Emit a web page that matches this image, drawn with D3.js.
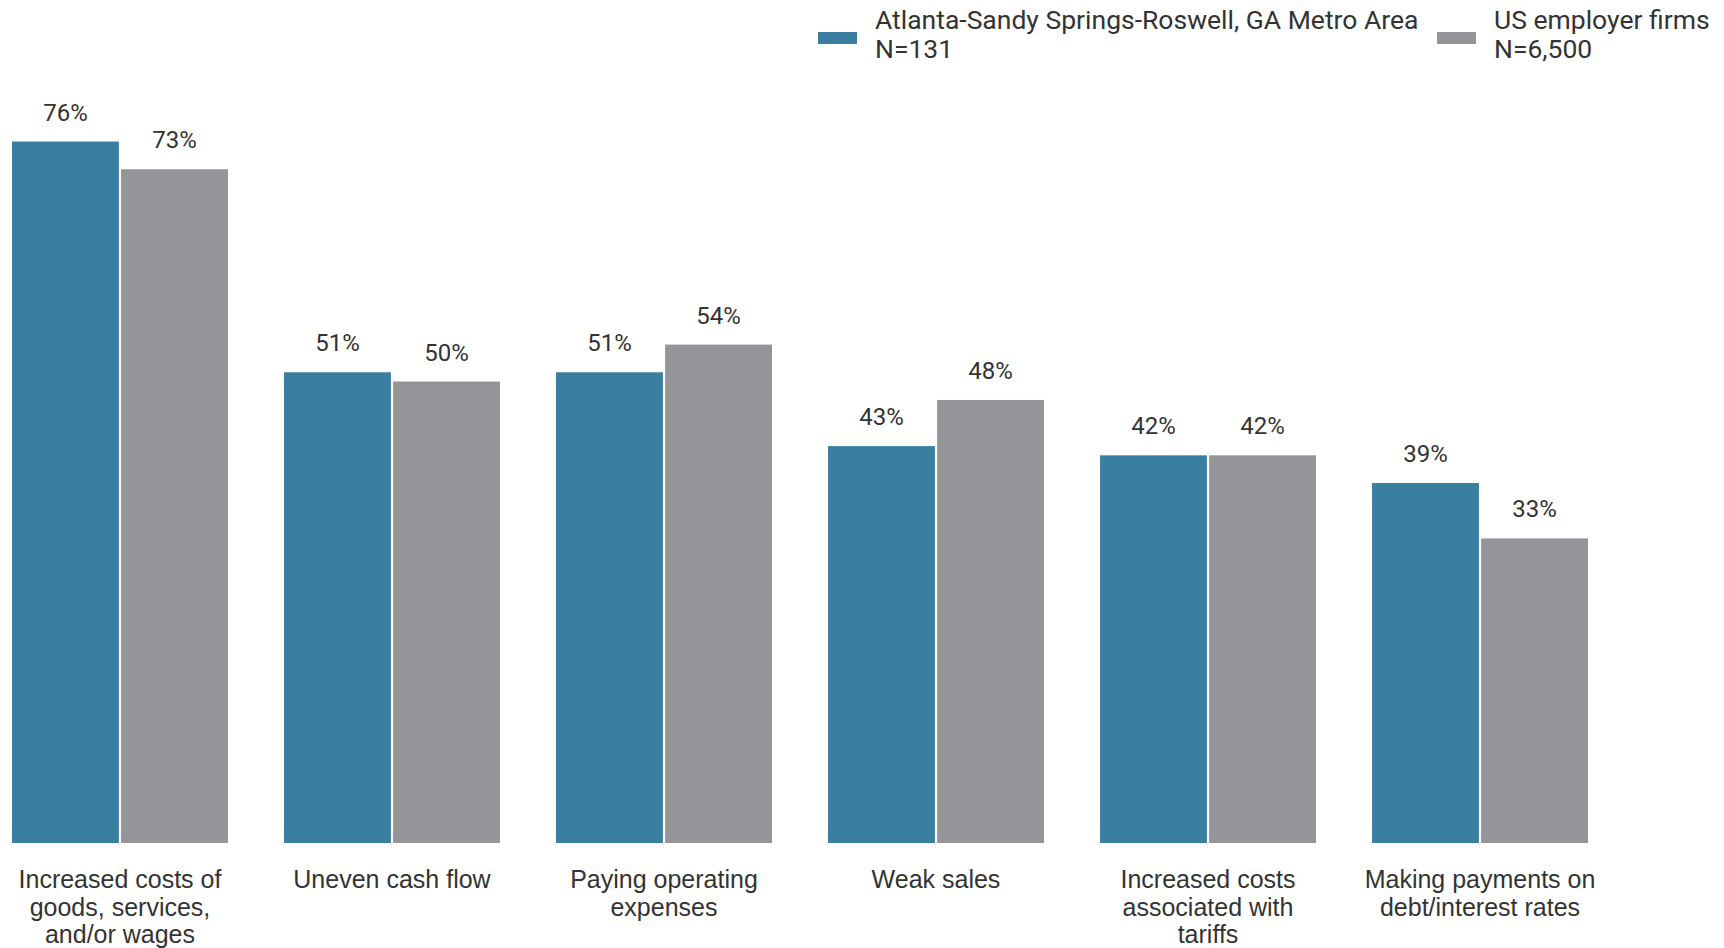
<!DOCTYPE html>
<html>
<head>
<meta charset="utf-8">
<script src="https://cdn.jsdelivr.net/npm/d3@7"></script>
<style>
  body { margin: 0; background: #fff; }
  text { font-family: Roboto, "Noto Sans", sans-serif; fill: #333; }
  text.cat { font-family: "Liberation Sans", Arial, sans-serif; }
</style>
</head>
<body>
<svg id="chart" width="1724" height="948"></svg>
<script>
// chart data
var categories = [
    "Increased costs of\ngoods, services,\nand/or wages",
    "Uneven cash flow",
    "Paying operating\nexpenses",
    "Weak sales",
    "Increased costs\nassociated with\ntariffs",
    "Making payments on\ndebt/interest rates"
];
var seriesNames = ["Atlanta-Sandy Springs-Roswell, GA Metro Area\nN=131", "US employer firms\nN=6,500"];
var atlantaValues = [76, 51, 51, 43, 42, 39];
var usValues = [73, 50, 54, 48, 42, 33];
var colors = ["#3a7ea1", "#949599"];

var svg = d3.select("#chart");

var rows = categories.map(function(c, i) {
    return {cat: c, vals: [atlantaValues[i], usValues[i]]};
});

var x0 = d3.scaleBand()
    .domain(categories)
    .range([12, 1588])
    .paddingInner(0.206)
    .paddingOuter(0);

var x1 = d3.scaleBand()
    .domain([0, 1])
    .range([0, x0.bandwidth()])
    .paddingInner(0.02);

var y = d3.scaleLinear()
    .domain([0, 100])
    .range([843, -80]);

var groups = svg.selectAll("g.group")
    .data(rows)
    .enter()
    .append("g")
    .attr("class", "group")
    .attr("transform", function(d) { return "translate(" + x0(d.cat) + ",0)"; });

groups.selectAll("rect")
    .data(function(d) { return d.vals; })
    .enter()
    .append("rect")
    .attr("x", function(d, i) { return x1(i); })
    .attr("width", x1.bandwidth())
    .attr("y", function(d) { return y(d); })
    .attr("height", function(d) { return y(0) - y(d); })
    .attr("fill", function(d, i) { return colors[i]; });

groups.selectAll("text.val")
    .data(function(d) { return d.vals; })
    .enter()
    .append("text")
    .attr("class", "val")
    .attr("x", function(d, i) { return x1(i) + x1.bandwidth() / 2; })
    .attr("y", function(d) { return y(d) - 21; })
    .attr("text-anchor", "middle")
    .attr("font-size", "24px")
    .text(function(d) { return d + "%"; });

// category labels under the bars
var catLabels = svg.selectAll("text.cat")
    .data(categories)
    .enter()
    .append("text")
    .attr("class", "cat")
    .attr("text-anchor", "middle")
    .attr("font-size", "25px")
    .attr("x", function(d) { return x0(d) + x0.bandwidth() / 2; })
    .attr("y", 888);

catLabels.each(function(d) {
    var t = d3.select(this);
    d.split("\n").forEach(function(line, i) {
        t.append("tspan")
            .attr("x", t.attr("x"))
            .attr("dy", i == 0 ? 0 : 27.5)
            .text(line);
    });
});

// legend
var legendX = [818, 1437];
var legend = svg.selectAll("g.legend")
    .data(seriesNames)
    .enter()
    .append("g")
    .attr("class", "legend")
    .attr("transform", function(d, i) { return "translate(" + legendX[i] + ",0)"; });

legend.append("rect")
    .attr("x", 0)
    .attr("y", 32)
    .attr("width", 39)
    .attr("height", 12)
    .attr("fill", function(d, i) { return colors[i]; });

legend.append("text")
    .attr("x", 57)
    .attr("y", 28.5)
    .attr("font-size", "26.5px")
    .each(function(d) {
        var t = d3.select(this);
        d.split("\n").forEach(function(line, i) {
            t.append("tspan")
                .attr("x", 57)
                .attr("dy", i == 0 ? 0 : 29)
                .text(line);
        });
    });
</script>
</body>
</html>
